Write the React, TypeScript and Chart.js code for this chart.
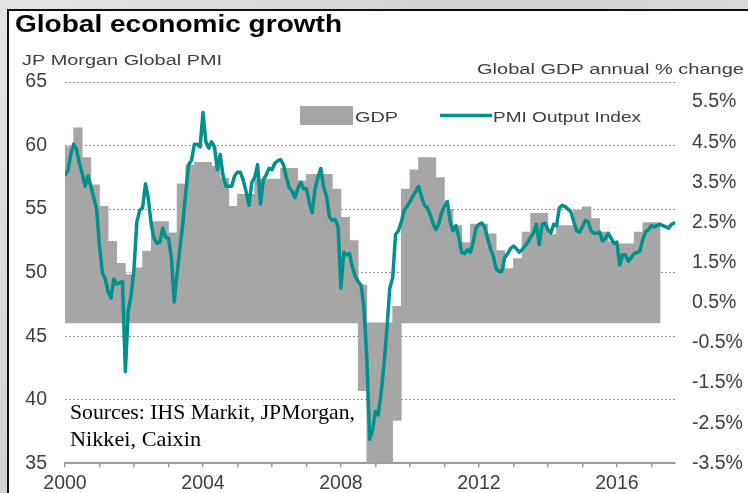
import { useEffect, useRef } from 'react';
import { Chart, registerables } from 'chart.js';

Chart.register(...registerables);

// ---------- text ----------
const TITLE = 'Global economic growth';
const LEFT_AXIS_TITLE = 'JP Morgan Global PMI';
const RIGHT_AXIS_TITLE = 'Global GDP annual % change';
const SOURCES = ['Sources: IHS Markit, JPMorgan,', 'Nikkei, Caixin'];
const GDP_LABEL = 'GDP';
const PMI_LABEL = 'PMI Output Index';

// ---------- data ----------
// JP Morgan Global PMI Output Index, monthly from Jan 2000
const PMI_START_YEAR = 2000;
const PMI_MONTHLY = [
  57.7, 58.0, 59.3, 60.1, 59.7, 58.6, 57.8, 56.8, 57.6, 56.8, 55.9, 55.0,
  52.1, 50.0, 49.5, 48.5, 48.0, 49.5, 49.1, 49.2, 49.3, 42.2, 47.0, 48.2,
  50.3, 54.0, 54.9, 55.1, 57.0, 55.8, 53.8, 52.7, 52.3, 52.4, 53.5, 52.8,
  52.7, 51.2, 47.7, 49.9, 52.0, 53.9, 56.3, 58.5, 58.8, 60.1, 60.1, 59.9,
  62.6, 60.3, 59.8, 60.3, 59.9, 58.1, 59.3, 57.6, 56.8, 56.8, 56.8, 57.6,
  57.9, 57.9, 57.3, 56.4, 55.3, 57.1, 57.5, 58.5, 55.4, 57.3, 57.7, 58.2,
  58.1, 58.6, 58.8, 58.9, 58.5, 57.5, 56.7, 56.4, 55.9, 56.6, 57.1, 56.6,
  56.6, 55.5, 54.7, 56.6, 57.5, 58.2, 56.7, 56.0, 54.4, 54.1, 54.2, 53.6,
  48.8, 51.6, 51.4, 51.5, 50.4, 49.7, 49.3, 49.0, 47.3, 43.2, 36.9, 37.6,
  39.1, 38.8, 40.6, 42.8, 45.6, 48.8, 49.6, 53.0, 53.3, 54.0, 54.9, 55.2,
  55.6, 56.0, 56.4, 56.8, 56.0, 55.3, 55.1, 54.6, 53.9, 53.4, 53.8, 54.7,
  55.2, 55.6, 54.0, 53.3, 53.7, 52.8, 51.6, 51.5, 51.8, 51.6, 52.4, 53.5,
  53.8, 53.9, 53.6, 52.7, 51.9, 51.3, 50.3, 50.1, 50.1, 51.2, 51.5, 51.9,
  52.1, 51.9, 51.6, 51.8, 52.1, 52.4, 52.8, 53.1, 53.8, 52.2, 53.8, 53.9,
  53.4, 53.1, 53.8, 53.7, 55.1, 55.3, 55.2, 55.0, 54.8, 54.0, 53.3, 53.2,
  53.6, 54.1, 54.0, 53.3, 53.1, 53.1, 53.2, 52.5, 52.7, 53.1, 52.7, 52.3,
  52.4, 50.6, 51.4, 51.4, 50.9, 51.2, 51.5, 51.6, 51.7, 52.6, 53.2, 53.4,
  53.7, 53.6, 53.7, 53.8, 53.7, 53.6, 53.5, 53.8, 53.9,
];

// Global GDP annual % change, quarterly from Q1 2000
// (a pair marks a quarter whose column spans both sides of zero in the picture)
const GDP_START_YEAR = 2000;
const GDP_QUARTERLY: (number | [number, number])[] = [
  4.39, 4.86, 4.12, 3.44,
  2.9, 2.03, 1.48, 1.2,
  1.37, 1.79, 2.52, 2.52,
  2.24, 3.46, 3.93, 4.0,
  4.0, 3.9, 3.6, 2.9,
  3.2, 3.2, 3.58, 3.58,
  3.58, 3.85, 3.85, 3.54,
  3.7, 3.7, 3.7, 3.33,
  2.63, 2.05, [-1.69, 0.94], -3.6,
  -3.6, -3.6, [-2.43, 0.41], 3.33,
  3.81, 4.12, 4.12, 3.62,
  2.83, 2.42, 2.0, 2.46,
  2.46, 2.22, 1.8, 1.35,
  1.6, 2.26, 2.73, 2.73,
  2.2, 2.42, 2.42, 2.8,
  2.89, 2.6, 2.26, 2.02,
  1.97, 1.97, 2.26, 2.5,
  2.5,
];

const YEAR_TICKS = [2000, 2001, 2002, 2003, 2004, 2005, 2006, 2007, 2008, 2009, 2010, 2011, 2012, 2013, 2014, 2015, 2016, 2017];
const YEAR_LABELS = [2000, 2004, 2008, 2012, 2016];
const X_MIN = 2000;
const X_MAX = 2017.685;
const PMI_TICKS = [35, 40, 45, 50, 55, 60, 65];
const GDP_TICKS = [-3.5, -2.5, -1.5, -0.5, 0.5, 1.5, 2.5, 3.5, 4.5, 5.5];
const GDP_MIN = -3.5;
const GDP_MAX = 6.0;

// ---------- style ----------
const TEAL = '#00918b';
const BAR_GRAY = '#a6a6a6';
const TEXT = '#3e3e3e';
const SANS = '"Liberation Sans", Arial, sans-serif';
const SERIF = '"Liberation Serif", "Times New Roman", serif';

function drawFitText(
  ctx: CanvasRenderingContext2D,
  text: string,
  x: number,
  y: number,
  font: string,
  color: string,
  width?: number
) {
  ctx.save();
  ctx.font = font;
  ctx.fillStyle = color;
  ctx.textAlign = 'left';
  ctx.textBaseline = 'alphabetic';
  const w = ctx.measureText(text).width;
  const sx = width ? width / w : 1;
  ctx.translate(x, y);
  ctx.scale(sx, 1);
  ctx.fillText(text, 0, 0);
  ctx.restore();
}

const decorPlugin = {
  id: 'decor',
  afterDraw(chart: any) {
    const ctx: CanvasRenderingContext2D = chart.ctx;
    // title and axis titles
    drawFitText(ctx, TITLE, 15, 31.5, `bold 23px ${SANS}`, '#000', 327);
    drawFitText(ctx, LEFT_AXIS_TITLE, 22, 65, `15.5px ${SANS}`, TEXT, 200);
    drawFitText(ctx, RIGHT_AXIS_TITLE, 477, 74, `15.5px ${SANS}`, TEXT, 267);

    // legend
    const gdpDs = chart.data.datasets[1];
    const pmiDs = chart.data.datasets[0];
    ctx.save();
    ctx.fillStyle = gdpDs.backgroundColor;
    ctx.fillRect(300, 106, 53, 19);
    ctx.strokeStyle = pmiDs.borderColor;
    ctx.lineWidth = 3.5;
    ctx.beginPath();
    ctx.moveTo(440, 115.5);
    ctx.lineTo(492, 115.5);
    ctx.stroke();
    ctx.restore();
    drawFitText(ctx, gdpDs.label, 355, 121.5, `15.5px ${SANS}`, TEXT, 43);
    drawFitText(ctx, pmiDs.label, 493, 121.5, `15.5px ${SANS}`, TEXT, 148);

    // sources note
    drawFitText(ctx, SOURCES[0], 70, 419, `21px ${SERIF}`, '#000', 285);
    drawFitText(ctx, SOURCES[1], 70, 446, `21px ${SERIF}`, '#000', 131);
  },
};

export default function App() {
  const canvasRef = useRef<HTMLCanvasElement | null>(null);

  useEffect(() => {
    const canvas = canvasRef.current;
    if (!canvas) return;

    const pmiPoints = PMI_MONTHLY.map((v, i) => ({ x: PMI_START_YEAR + i / 12, y: v }));
    const gdpPoints = GDP_QUARTERLY.map((v, k) => ({ x: GDP_START_YEAR + (k + 0.5) / 4, y: v }));

    const chart = new Chart(canvas, {
      type: 'bar',
      data: {
        datasets: [
          {
            type: 'line',
            label: PMI_LABEL,
            data: pmiPoints,
            xAxisID: 'x',
            yAxisID: 'y',
            borderColor: TEAL,
            backgroundColor: TEAL,
            borderWidth: 3.5,
            pointRadius: 0,
            tension: 0,
            borderJoinStyle: 'round',
            borderCapStyle: 'round',
          } as any,
          {
            type: 'bar',
            label: GDP_LABEL,
            data: gdpPoints,
            xAxisID: 'x',
            yAxisID: 'y1',
            backgroundColor: BAR_GRAY,
            borderWidth: 0,
            barPercentage: 1,
            categoryPercentage: 1,
          } as any,
        ],
      },
      options: {
        responsive: false,
        animation: false,
        events: [],
        layout: { padding: { top: 82, left: 0, right: 0, bottom: 0 } },
        plugins: {
          legend: { display: false },
          tooltip: { enabled: false },
          title: { display: false },
        },
        scales: {
          x: {
            type: 'linear',
            position: 'bottom',
            min: X_MIN,
            max: X_MAX,
            offset: false,
            afterBuildTicks: (s: any) => {
              s.ticks = YEAR_TICKS.map((v) => ({ value: v }));
            },
            afterFit: (s: any) => {
              s.height = 27;
            },
            ticks: {
              autoSkip: false,
              maxRotation: 0,
              padding: 5,
              color: TEXT,
              font: { family: SANS, size: 19.5 },
              callback: (v: any) => (YEAR_LABELS.includes(Number(v)) ? String(v) : ''),
            },
            grid: {
              offset: false,
              drawOnChartArea: false,
              drawTicks: true,
              tickLength: 4,
              color: '#9a9a9a',
              lineWidth: 1.5,
            },
            border: { display: true, color: '#9a9a9a', width: 2 },
          },
          y: {
            type: 'linear',
            position: 'left',
            min: 35,
            max: 65,
            afterBuildTicks: (s: any) => {
              s.ticks = PMI_TICKS.map((v) => ({ value: v }));
            },
            afterFit: (s: any) => {
              s.width = 65;
            },
            ticks: {
              padding: 18,
              color: TEXT,
              font: { family: SANS, size: 19.5 },
            },
            grid: {
              drawTicks: false,
              color: (c: any) => (c.tick && c.tick.value === 35 ? 'rgba(0,0,0,0)' : '#959595'),
              lineWidth: 1,
            },
            border: { display: false, dash: [2, 2] },
          },
          y1: {
            type: 'linear',
            position: 'right',
            min: GDP_MIN,
            max: GDP_MAX,
            afterBuildTicks: (s: any) => {
              s.ticks = GDP_TICKS.map((v) => ({ value: v }));
            },
            afterFit: (s: any) => {
              s.width = 73;
            },
            ticks: {
              padding: 17,
              color: TEXT,
              font: { family: SANS, size: 19.5 },
              callback: (v: any) => Number(v).toFixed(1) + '%',
            },
            grid: { display: false, drawTicks: false },
            border: { display: false },
          },
        },
      } as any,
      plugins: [decorPlugin],
    });

    return () => {
      chart.destroy();
    };
  }, []);

  return (
    <div
      style={{
        position: 'fixed',
        left: 0,
        top: 0,
        width: 748,
        height: 493,
        overflow: 'hidden',
        background: 'linear-gradient(135deg, #e4e4e4 0%, #d2d2d2 40%, #e6e6e6 100%)',
      }}
    >
      <div
        style={{
          position: 'absolute',
          left: 7,
          top: 9,
          right: 0,
          bottom: 0,
          background: '#fff',
          borderLeft: '2px solid #111',
          borderTop: '2px solid #111',
        }}
      />
      <canvas
        ref={canvasRef}
        width={748}
        height={493}
        style={{ position: 'absolute', left: 0, top: 0, width: 748, height: 493 }}
      />
    </div>
  );
}
